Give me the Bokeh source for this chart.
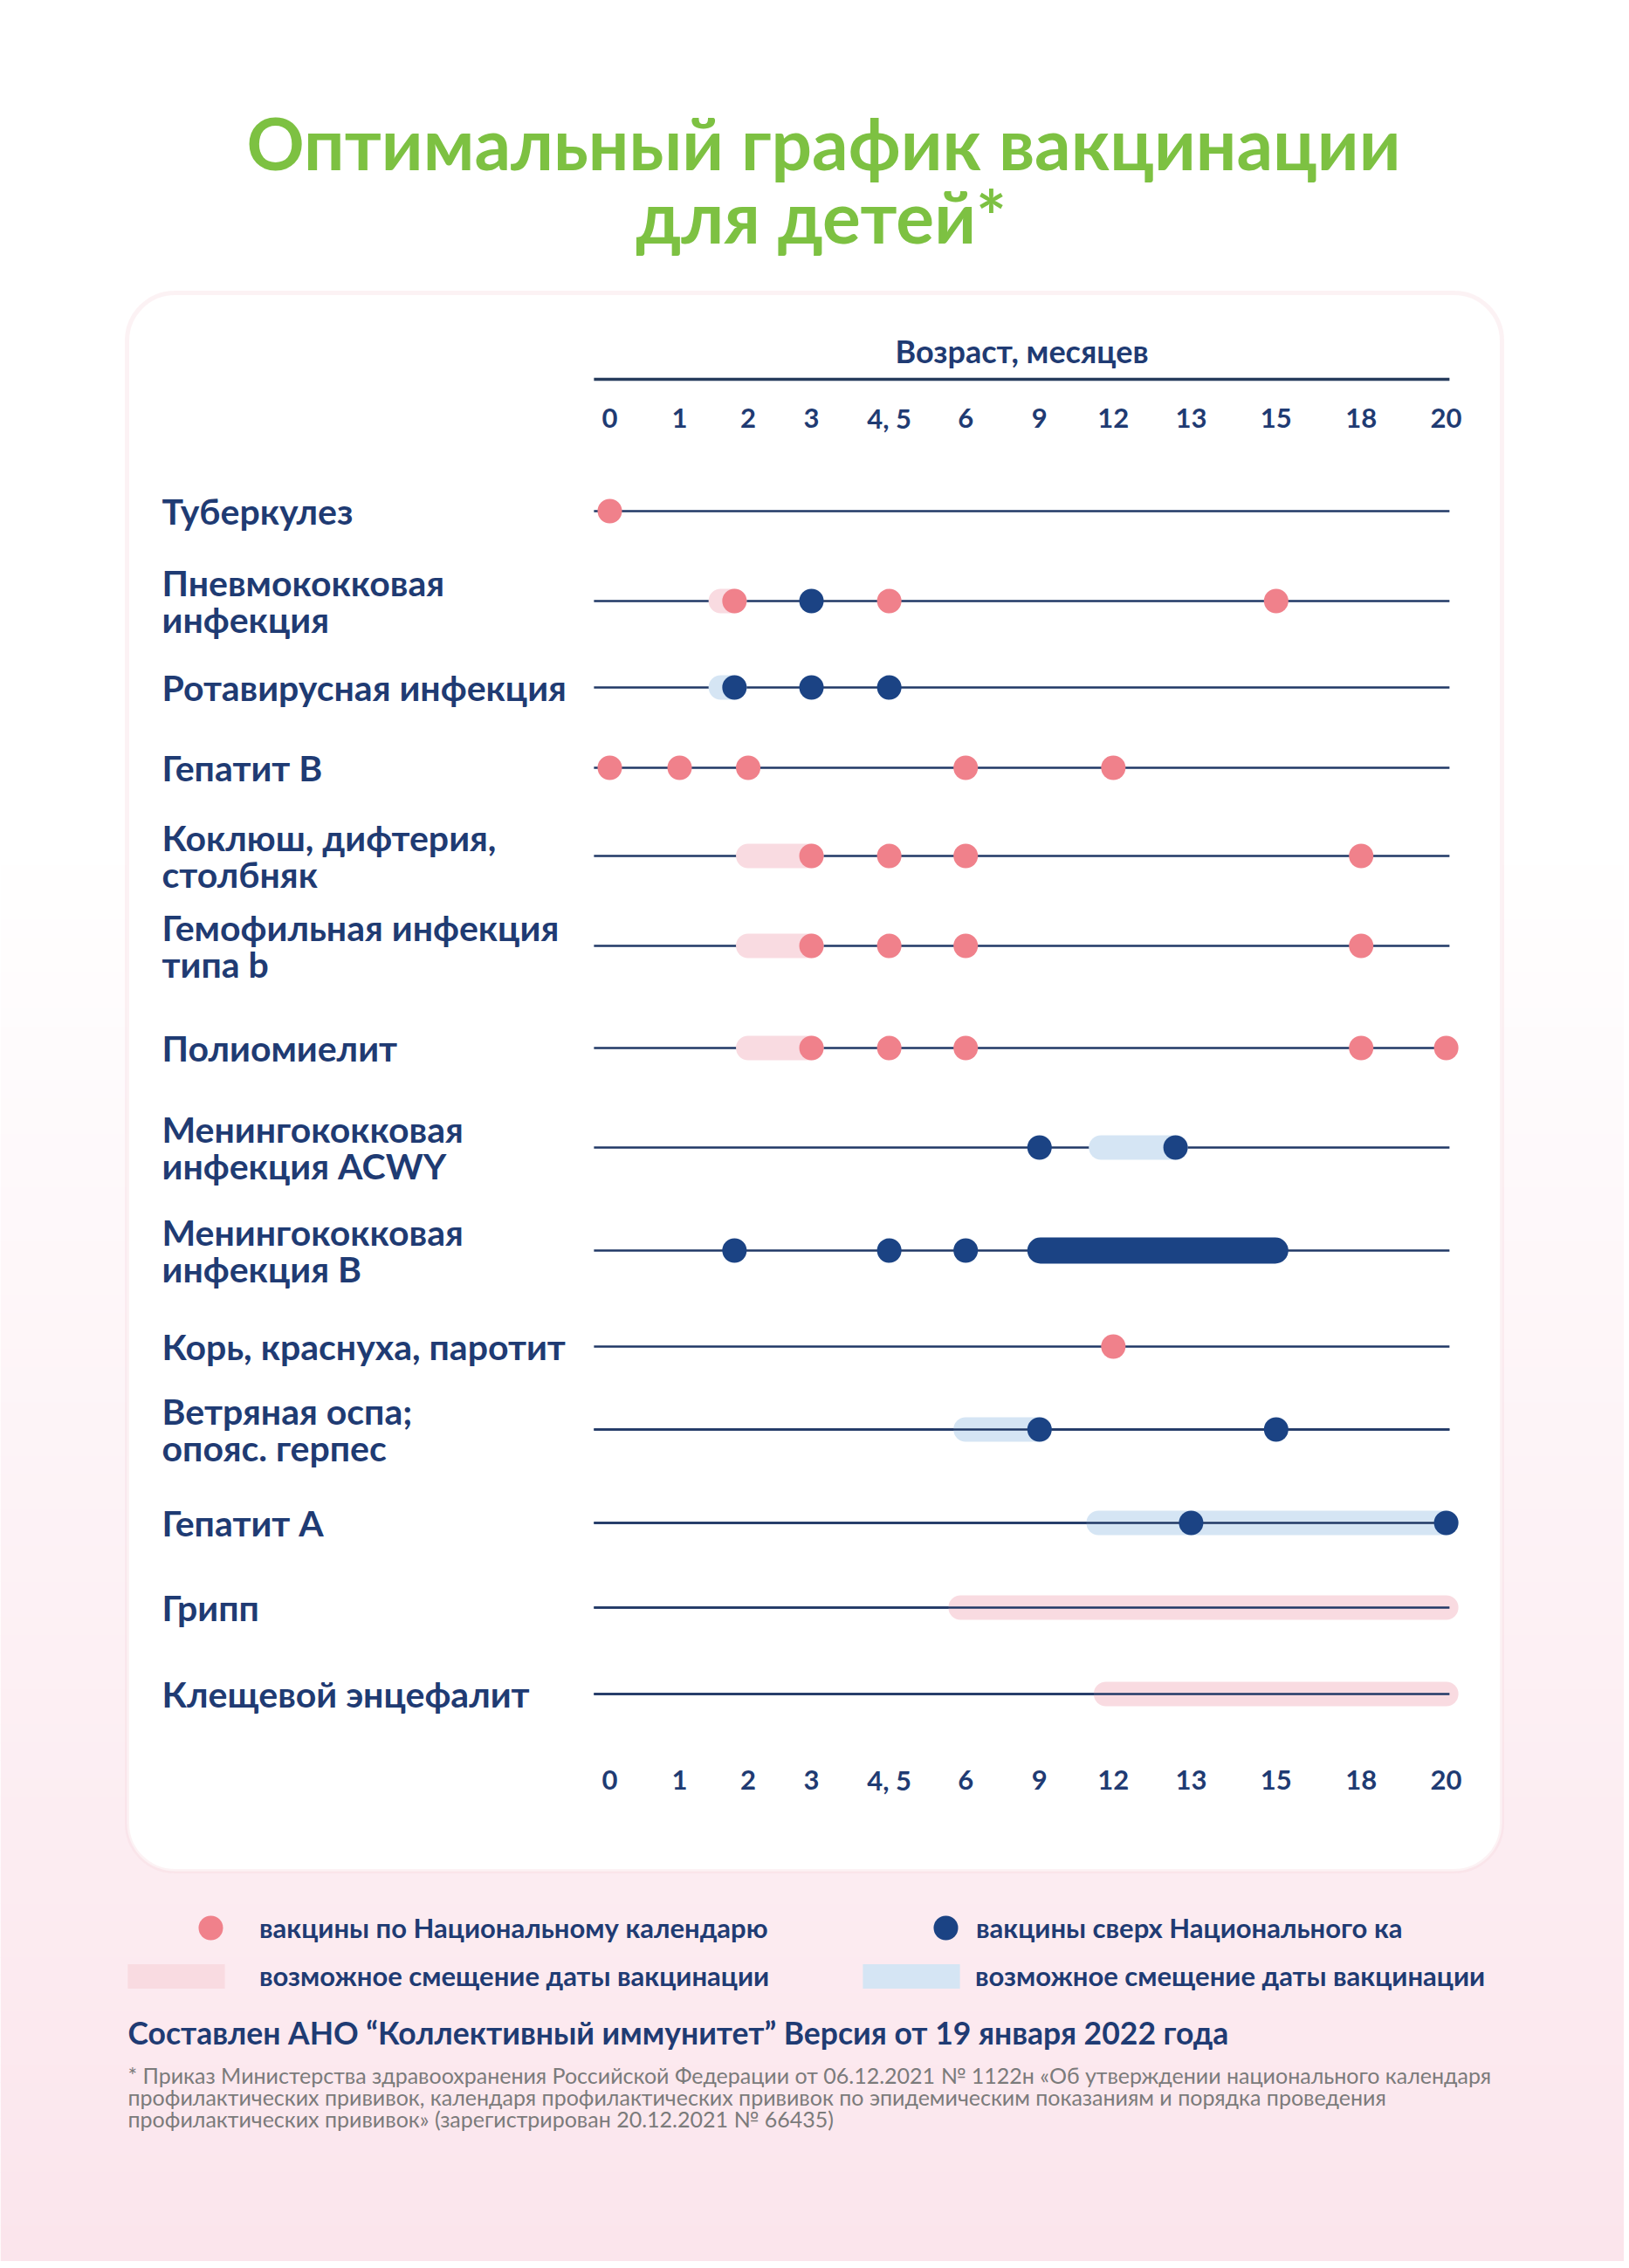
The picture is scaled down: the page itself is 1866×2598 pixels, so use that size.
import numpy as np
from bokeh.plotting import figure
from bokeh.models import Range1d, BoxAnnotation, ColumnDataSource, Legend, LegendItem, HBar
from bokeh.core.properties import value
from bokeh.embed import file_html
from bokeh.resources import INLINE

# ---------------- data ----------------
title_lines = ["Оптимальный график вакцинации", "для детей*"]
axis_title = "Возраст, месяцев"
diseases = [
    "Туберкулез",
    "Пневмококковая\nинфекция",
    "Ротавирусная инфекция",
    "Гепатит В",
    "Коклюш, дифтерия,\nстолбняк",
    "Гемофильная  инфекция\nтипа b",
    "Полиомиелит",
    "Менингококковая\nинфекция ACWY",
    "Менингококковая\nинфекция B",
    "Корь, краснуха, паротит",
    "Ветряная оспа;\nопояс. герпес",
    "Гепатит А",
    "Грипп",
    "Клещевой энцефалит",
]
tick_months = [0, 1, 2, 3, 4.5, 6, 9, 12, 13, 15, 18, 20]
tick_labels = ["0", "1", "2", "3", "4, 5", "6", "9", "12", "13", "15", "18", "20"]

# doses by the National calendar (months)
national_doses = [
    [0], [1.8, 4.5, 15], [], [0, 1, 2, 6, 12], [3, 4.5, 6, 18], [3, 4.5, 6, 18],
    [3, 4.5, 6, 18, 20], [], [], [12], [], [], [], [],
]
# doses beyond the National calendar (months)
extra_doses = [
    [], [3], [1.8, 3, 4.5], [], [], [], [], [9, 12.8], [1.8, 4.5, 6], [], [9, 15], [13, 20], [], [],
]
# possible shift of vaccination date (months, from-to)
national_windows = [
    [], [(1.6, 1.8)], [], [], [(2, 3)], [(2, 3)], [(2, 3)], [], [], [], [], [], [(5.9, 20)], [(11.7, 20)],
]
extra_windows = [
    [], [], [(1.6, 1.8)], [], [], [], [], [(11.5, 12.8)], [], [], [(6, 9)], [(11.4, 20)], [], [],
]
extra_courses = [
    [], [], [], [], [], [], [], [], [(9, 15)], [], [], [], [], [],
]
legend_labels = [
    "вакцины по Национальному календарю",
    "вакцины сверх Национального ка",
    "возможное смещение даты вакцинации",
    "возможное смещение даты вакцинации",
]
credit = "Составлен АНО \u201cКоллективный иммунитет\u201d Версия от 19 января 2022 года"
footnote = [
    "* Приказ Министерства здравоохранения Российской Федерации от 06.12.2021 № 1122н «Об утверждении национального календаря",
    "профилактических прививок, календаря профилактических прививок по эпидемическим показаниям и порядка проведения",
    "профилактических прививок» (зарегистрирован 20.12.2021 № 66435)",
]

# ---------------- layout / style ----------------
W, H = 1860, 2590
row_y = [585, 688, 787, 879, 980, 1083, 1200, 1314, 1432, 1542, 1637, 1744, 1841, 1940]
tick_slots = [0, 1.06, 2.1, 3.06, 4.24, 5.4, 6.52, 7.64, 8.82, 10.11, 11.4, 12.69]
SLOT0, SLOT = 698.0, 75.5
CAP = 14 / SLOT          # half bar thickness, in slot units (rounded ends)
line_from, line_to = tick_slots[0] - 0.24, tick_slots[-1] + 0.05
rows_line_on_top = [10, 11, 12, 13]

NAVY_TEXT = "#1f3b73"
NAVY = "#1b4384"
PINK = "#f0818b"
LIGHT_PINK = "#f9dbe1"
LIGHT_BLUE = "#d5e5f4"
LINE = "#203866"
GREEN = "#7dc142"
GRAY = "#7b7b7b"
FONT_NAME = "Lato"
FONT = value(FONT_NAME)
HAS_RADIUS = "border_radius" in HBar.properties()


def age(m):
    return float(np.interp(m, tick_months, tick_slots))


def points(lists):
    xs, ys = [], []
    for i, ms in enumerate(lists):
        for m in ms:
            xs.append(age(m))
            ys.append(row_y[i])
    return dict(x=xs, y=ys)


def spans(lists):
    x0, x1, ys = [], [], []
    for i, rs in enumerate(lists):
        for a, b in rs:
            x0.append(age(a) - CAP)
            x1.append(age(b) + CAP)
            ys.append(row_y[i])
    return dict(left=x0, right=x1, y=ys)


def radius(r):
    return {"border_radius": r} if HAS_RADIUS else {}


p = figure(width=W, height=H, x_range=Range1d(0, W), y_range=Range1d(H, 0),
           output_backend="svg", toolbar_location=None, min_border=0,
           x_axis_location=None, y_axis_location=None)
p.extra_x_ranges = {"age": Range1d((0 - SLOT0) / SLOT, (W - SLOT0) / SLOT)}
p.outline_line_color = None
p.background_fill_color = "white"
p.border_fill_color = "white"
p.xgrid.visible = False
p.ygrid.visible = False

# background gradient (white -> pale pink)
edges = np.linspace(950, H, 81)
c0, c1 = np.array([255, 255, 255]), np.array([251, 229, 236])
cols = []
for k in range(80):
    t = (k + 0.5) / 80
    c = (c0 + (c1 - c0) * t).round().astype(int)
    cols.append("#%02x%02x%02x" % tuple(c))
bg = p.quad(left=0, right=W, top=edges[:-1], bottom=edges[1:] + 0.5, fill_color=cols, line_color=None)
bg.level = "image"

# card
card = BoxAnnotation(left=145, right=1720, top=335, bottom=2143, fill_color="white", fill_alpha=1,
                     line_color="#f4d5dc", line_width=5, border_radius=55, level="underlay")
p.add_layout(card)

# title
for ty, tx, line in ((162, 943, title_lines[0]), (246, 940, title_lines[1])):
    p.text(x=[tx], y=[ty], text=[line], text_font=FONT, text_font_style="bold",
           text_font_size="82px", text_color=GREEN, text_align="center", text_baseline="middle")

# axis title, axis line, tick labels (top and bottom)
p.text(x=[1170], y=[401], text=[axis_title], text_font=FONT,
       text_font_style="bold", text_font_size="36px", text_color=NAVY_TEXT,
       text_align="center", text_baseline="middle")
p.segment(x0=[line_from], x1=[line_to], y0=[434], y1=[434], x_range_name="age",
          line_color="#263b5c", line_width=3.5)
for ty in (478, 2038):
    p.text(x=[age(m) for m in tick_months], y=[ty] * len(tick_months), text=tick_labels,
           x_range_name="age", text_font=FONT, text_font_style="bold", text_font_size="31px",
           text_color=NAVY_TEXT, text_align="center", text_baseline="middle")

# row labels
p.text(x=[185] * len(diseases), y=row_y, text=diseases, text_font=FONT, text_font_style="bold",
       text_font_size="41px", text_color=NAVY_TEXT, text_align="left", text_baseline="middle",
       text_line_height=0.86)

# row lines
p.segment(x0=[line_from] * len(row_y), x1=[line_to] * len(row_y), y0=row_y, y1=row_y,
          x_range_name="age", line_color=LINE, line_width=2.5)

# windows (possible shift of date)
r_nw = p.hbar(y="y", left="left", right="right", height=28, source=ColumnDataSource(spans(national_windows)),
              x_range_name="age", fill_color=LIGHT_PINK, line_color=None, **radius(14))
r_ew = p.hbar(y="y", left="left", right="right", height=28, source=ColumnDataSource(spans(extra_windows)),
              x_range_name="age", fill_color=LIGHT_BLUE, line_color=None, **radius(14))
top_y = [row_y[i] for i in rows_line_on_top]
p.segment(x0=[line_from] * len(top_y), x1=[line_to] * len(top_y), y0=top_y, y1=top_y,
          x_range_name="age", line_color=LINE, line_width=2.5)

# extra continuous course
p.hbar(y="y", left="left", right="right", height=30, source=ColumnDataSource(spans(extra_courses)),
       x_range_name="age", fill_color=NAVY, line_color=None, **radius(15))

# doses
r_nd = p.scatter(x="x", y="y", source=ColumnDataSource(points(national_doses)), x_range_name="age",
                 marker="circle", size=28, fill_color=PINK, line_color=None)
r_ed = p.scatter(x="x", y="y", source=ColumnDataSource(points(extra_doses)), x_range_name="age",
                 marker="circle", size=28, fill_color=NAVY, line_color=None)


def add_legend(label, renderer, x_left, y_center, gw, gh, lh, standoff):
    item_h = max(gh, lh)
    lg = Legend(items=[LegendItem(label=label, renderers=[renderer])],
                location=(x_left, H - (y_center + item_h / 2)),
                glyph_width=gw, glyph_height=gh, label_height=lh, label_standoff=standoff,
                padding=0, margin=0, border_line_color=None, background_fill_alpha=0,
                label_text_font=FONT_NAME, label_text_font_style="bold",
                label_text_font_size="31px", label_text_color=NAVY_TEXT,
                label_text_baseline="middle")
    p.add_layout(lg)


# dot swatches: marker drawn at 0.4 of the glyph box; bar swatches: drawn at 0.8 of it
add_legend(legend_labels[0], r_nd, 206, 2208, 70, 70, 20, 21)
add_legend(legend_labels[1], r_ed, 1048, 2208, 70, 70, 20, 0)
add_legend(legend_labels[2], r_nw, 132, 2263, 139, 35, 40, 26)
add_legend(legend_labels[3], r_ew, 974, 2263, 139, 35, 40, 4)

# credit + footnote
p.text(x=[146], y=[2328], text=[credit], text_font=FONT, text_font_style="bold",
       text_font_size="35.5px", text_color=NAVY_TEXT, text_align="left", text_baseline="middle")
p.text(x=[146] * 3, y=[2376, 2401, 2426], text=footnote, text_font=FONT,
       text_font_size="25px", text_color=GRAY, text_align="left", text_baseline="middle")

open("out.html", "w").write(file_html(p, INLINE))
